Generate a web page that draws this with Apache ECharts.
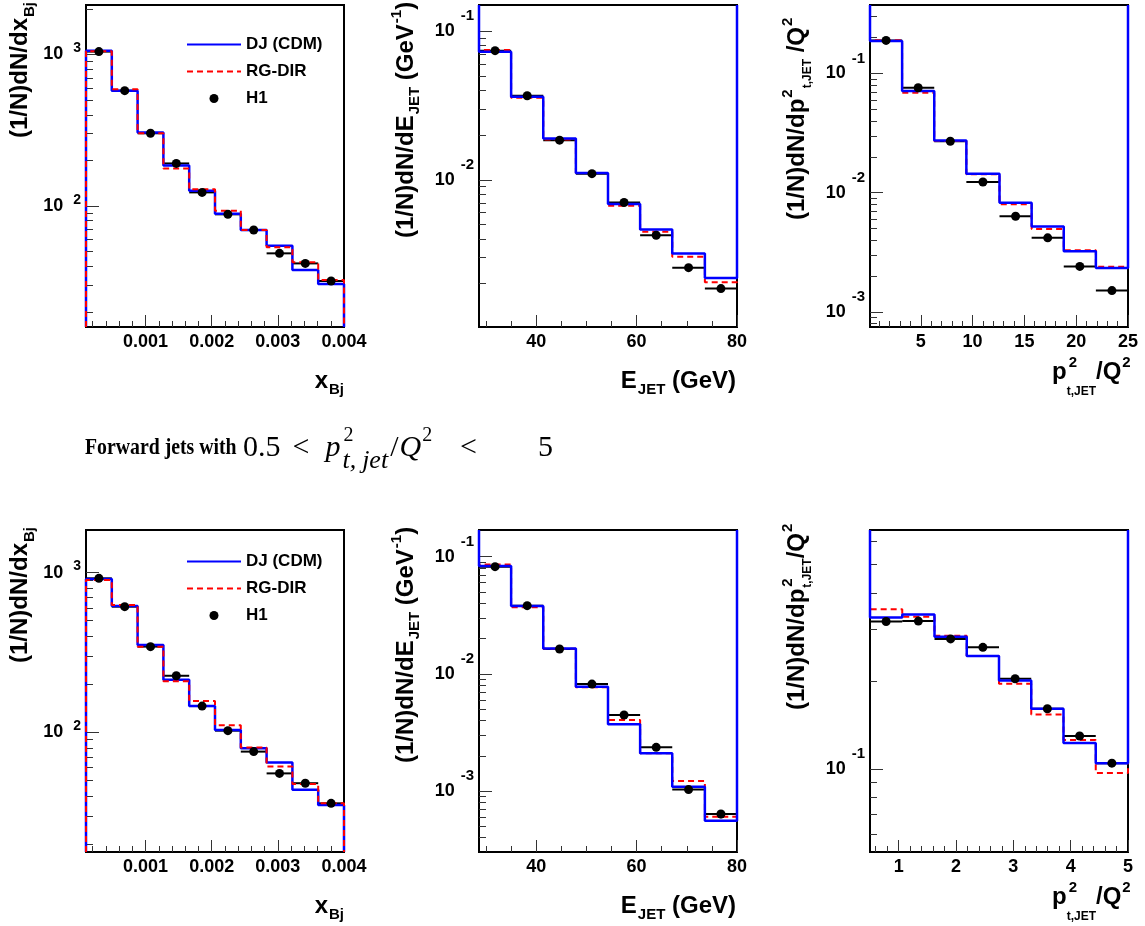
<!DOCTYPE html>
<html lang="en">
<head>
  <meta charset="UTF-8">
  <title>Forward jets: DJ (CDM), RG-DIR and H1</title>
  <script src="https://cdn.jsdelivr.net/npm/echarts/dist/echarts.min.js"></script>
  <style>
    body { margin: 0; background: #fff; }
    #chart { width: 1145px; height: 926px; }
  </style>
</head>
<body>
  <div id="chart"></div>
  <script>
    // ---- bin edges ----
    const xbjEdges   = [0.0001, 0.00049, 0.00088, 0.00127, 0.00166, 0.00205, 0.00244, 0.00283, 0.00322, 0.00361, 0.004];
    const ejetEdges  = [28.6, 35.0, 41.4, 47.9, 54.3, 60.7, 67.1, 73.6, 80];
    const ptAllEdges = [0.1, 3.2, 6.3, 9.4, 12.6, 15.7, 18.8, 21.9, 25];
    const ptCutEdges = [0.5, 1.0625, 1.625, 2.1875, 2.75, 3.3125, 3.875, 4.4375, 5];

    // ---- tick labels ----
    const xbjTicks   = [0.001, 0.002, 0.003, 0.004];
    const ejetTicks  = [40, 60, 80];
    const ptAllTicks = [5, 10, 15, 20, 25];
    const ptCutTicks = [1, 2, 3, 4, 5];

    // ---- top row: all forward jets ----
    const djXbjAll  = [1060, 577, 306, 185, 126, 89, 69.4, 54.7, 37.8, 30.6];
    const rgXbjAll  = [1050, 589, 302, 177, 129, 93.2, 69.4, 53.4, 42.5, 32.5];
    const h1XbjAll  = [1045, 577, 302, 191, 123, 88.1, 69.4, 48.7, 41.8, 32.0];
    const errXbjAll = [20, 10, 5, 4, 3, 2, 1.5, 1.4, 1.2, 1.1];

    const djEjetAll  = [0.0729, 0.0363, 0.0190, 0.0111, 0.00686, 0.00463, 0.00319, 0.00218];
    const rgEjetAll  = [0.0748, 0.0357, 0.0187, 0.0111, 0.00668, 0.00447, 0.00303, 0.00204];
    const h1EjetAll  = [0.0741, 0.0368, 0.0185, 0.0110, 0.00703, 0.00423, 0.00256, 0.00185];
    const errEjetAll = [0.0012, 0.0006, 0.0003, 0.0002, 0.00012, 0.00008, 0.00006, 0.00005];

    const djPtAll  = [0.187, 0.0711, 0.0274, 0.0144, 0.00822, 0.00520, 0.00323, 0.00234];
    const rgPtAll  = [0.190, 0.0689, 0.0271, 0.0143, 0.00800, 0.00497, 0.00329, 0.00239];
    const h1PtAll  = [0.189, 0.0758, 0.0270, 0.0123, 0.00635, 0.00418, 0.00241, 0.00151];
    const errPtAll = [0.003, 0.0012, 0.0005, 0.0003, 0.00015, 0.0001, 0.00007, 0.00006];

    // ---- bottom row: 0.5 < pt^2/Q^2 < 5 ----
    const djXbjCut  = [912, 618, 352, 213, 146, 103.5, 79.5, 64.6, 43.6, 35.1];
    const rgXbjCut  = [899, 627, 344, 209, 157, 110.7, 80.2, 61.0, 47.4, 35.9];
    const h1XbjCut  = [921, 612, 344, 226, 146, 102.4, 75.7, 55.3, 48.0, 35.9];
    const errXbjCut = [18, 11, 6, 4, 3, 2, 1.6, 1.4, 1.3, 1.2];

    const djEjetCut  = [0.0833, 0.0379, 0.0165, 0.00778, 0.00371, 0.00210, 0.00109, 0.000558];
    const rgEjetCut  = [0.0860, 0.0370, 0.0164, 0.00770, 0.00404, 0.00210, 0.00122, 0.000604];
    const h1EjetCut  = [0.0822, 0.0382, 0.0163, 0.00818, 0.00446, 0.00236, 0.00103, 0.000637];
    const errEjetCut = [0.0015, 0.0007, 0.0003, 0.00018, 0.00011, 0.00007, 0.00004, 0.00005];

    const djPtCut  = [0.330, 0.338, 0.284, 0.244, 0.201, 0.161, 0.123, 0.105];
    const rgPtCut  = [0.352, 0.332, 0.286, 0.244, 0.196, 0.154, 0.126, 0.0971];
    const h1PtCut  = [0.320, 0.321, 0.279, 0.261, 0.204, 0.161, 0.130, 0.105];
    const errPtCut = [0.005, 0.005, 0.004, 0.004, 0.003, 0.003, 0.003, 0.003];

    const FONT = '"Liberation Sans", Arial, sans-serif';
    const SERIF = '"Liberation Serif", "Times New Roman", serif';
    const W = 258, H = 322;

    const panels = [
      { left: 86,  top: 5,   edges: xbjEdges,   xTicks: xbjTicks,   xMinor: 0.0002, xDigits: 3, yMin: 15.9,    yMax: 2122,   yTicks: [100, 1000],
        dj: djXbjAll, rg: rgXbjAll, h1: h1XbjAll, err: errXbjAll, wallTop: false },
      { left: 479, top: 5,   edges: ejetEdges,  xTicks: ejetTicks,  xMinor: 5,      xDigits: 0, yMin: 0.00102, yMax: 0.1504, yTicks: [0.01, 0.1],
        dj: djEjetAll, rg: rgEjetAll, h1: h1EjetAll, err: errEjetAll, wallTop: true },
      { left: 870, top: 5,   edges: ptAllEdges, xTicks: ptAllTicks, xMinor: 1,      xDigits: 0, yMin: 0.000748, yMax: 0.3744, yTicks: [0.001, 0.01, 0.1],
        dj: djPtAll, rg: rgPtAll, h1: h1PtAll, err: errPtAll, wallTop: true },
      { left: 86,  top: 530, edges: xbjEdges,   xTicks: xbjTicks,   xMinor: 0.0002, xDigits: 3, yMin: 17.8,    yMax: 1849,   yTicks: [100, 1000],
        dj: djXbjCut, rg: rgXbjCut, h1: h1XbjCut, err: errXbjCut, wallTop: false },
      { left: 479, top: 530, edges: ejetEdges,  xTicks: ejetTicks,  xMinor: 5,      xDigits: 0, yMin: 0.000302, yMax: 0.169,  yTicks: [0.001, 0.01, 0.1],
        dj: djEjetCut, rg: rgEjetCut, h1: h1EjetCut, err: errEjetCut, wallTop: true },
      { left: 870, top: 530, edges: ptCutEdges, xTicks: ptCutTicks, xMinor: 0.2,    xDigits: 0, yMin: 0.0522,  yMax: 0.657,  yTicks: [0.1],
        dj: djPtCut, rg: rgPtCut, h1: h1PtCut, err: errPtCut, wallTop: true }
    ];

    function linMinor(min, max, step, majors) {
      const out = [];
      for (let k = Math.ceil(min / step - 1e-9); k * step <= max * (1 + 1e-9); k++) {
        const v = +(k * step).toPrecision(10);
        if (!majors.some(m => Math.abs(m - v) < step * 1e-6)) out.push(v);
      }
      return out;
    }
    function logMinor(min, max) {
      const out = [];
      for (let d = Math.floor(Math.log10(min)); d <= Math.ceil(Math.log10(max)); d++)
        for (let k = 2; k <= 9; k++) {
          const v = +(k * Math.pow(10, d)).toPrecision(6);
          if (v >= min && v <= max) out.push(v);
        }
      return out;
    }
    function stepPoints(edges, vals, yEdge) {
      const pts = [[edges[0], yEdge]];
      vals.forEach((v, i) => { pts.push([edges[i], v], [edges[i + 1], v]); });
      pts.push([edges[edges.length - 1], yEdge]);
      return pts;
    }
    function powLabel(v) {
      const e = Math.round(Math.log10(v));
      return e < 0 ? '{b|10}{n|' + e + '}' : '{b|10}{p|' + e + '}';
    }

    const tickLine = { color: '#333', width: 1 };
    const grid = [], xAxis = [], yAxis = [], series = [];

    panels.forEach((p, i) => {
      const xMin = p.edges[0], xMax = p.edges[p.edges.length - 1];
      grid.push({ left: p.left, top: p.top, width: W, height: H, show: true,
                  borderColor: '#000', borderWidth: 2, backgroundColor: 'rgba(0,0,0,0)' });

      xAxis.push({
        type: 'value', gridIndex: i, position: 'bottom', min: xMin, max: xMax,
        axisLine: { show: false }, splitLine: { show: false },
        axisTick: { show: true, inside: true, length: 12, customValues: p.xTicks, lineStyle: tickLine },
        axisLabel: { customValues: p.xTicks, margin: 6, formatter: v => v.toFixed(p.xDigits),
                     fontSize: 18, fontWeight: 'bold', fontFamily: FONT, color: '#000' }
      }, {
        type: 'value', gridIndex: i, position: 'bottom', min: xMin, max: xMax,
        axisLine: { show: false }, splitLine: { show: false }, axisLabel: { show: false },
        axisTick: { show: true, inside: true, length: 6, customValues: linMinor(xMin, xMax, p.xMinor, p.xTicks), lineStyle: tickLine }
      });

      yAxis.push({
        type: 'log', logBase: 10, gridIndex: i, position: 'left', min: p.yMin, max: p.yMax,
        axisLine: { show: false }, splitLine: { show: false },
        axisTick: { show: true, inside: true, length: 13, customValues: p.yTicks, lineStyle: tickLine },
        axisLabel: {
          customValues: p.yTicks, margin: 5, formatter: powLabel, color: '#000',
          rich: {
            b: { fontSize: 18, fontWeight: 'bold', fontFamily: FONT, color: '#000', verticalAlign: 'middle' },
            p: { fontSize: 14, fontWeight: 'bold', fontFamily: FONT, color: '#000', verticalAlign: 'middle', padding: [0, 0, 12, 10] },
            n: { fontSize: 15, fontWeight: 'bold', fontFamily: FONT, color: '#000', verticalAlign: 'middle', padding: [0, 0, 30, 6] }
          }
        }
      }, {
        type: 'log', logBase: 10, gridIndex: i, position: 'left', min: p.yMin, max: p.yMax,
        axisLine: { show: false }, splitLine: { show: false }, axisLabel: { show: false },
        axisTick: { show: true, inside: true, length: 7, customValues: logMinor(p.yMin, p.yMax), lineStyle: tickLine }
      });

      const yEdge = p.wallTop ? p.yMax : p.yMin;
      const redOnTop = !p.wallTop;
      const ax = { xAxisIndex: 2 * i, yAxisIndex: 2 * i };

      series.push({
        name: 'H1 err', type: 'custom', ...ax, silent: true, z: 2,
        data: p.h1.map((v, k) => [p.edges[k], p.edges[k + 1], v, v - p.err[k], v + p.err[k]]),
        encode: { x: [0, 1], y: [2, 3, 4] },
        renderItem(params, api) {
          const a = api.coord([api.value(0), api.value(2)]);
          const b = api.coord([api.value(1), api.value(2)]);
          const xc = (api.value(0) + api.value(1)) / 2;
          const lo = api.coord([xc, api.value(3)]);
          const hi = api.coord([xc, api.value(4)]);
          const st = { stroke: '#000', lineWidth: 2 };
          return { type: 'group', children: [
            { type: 'line', shape: { x1: a[0], y1: a[1], x2: b[0], y2: b[1] }, style: st },
            { type: 'line', shape: { x1: lo[0], y1: lo[1], x2: hi[0], y2: hi[1] }, style: st }
          ] };
        }
      });
      series.push({
        name: 'DJ (CDM)', type: 'line', ...ax, data: stepPoints(p.edges, p.dj, yEdge),
        symbol: 'none', clip: false, silent: true, z: redOnTop ? 3 : 4, color: '#0000ff',
        lineStyle: { color: '#0000ff', width: 2.5 }
      });
      series.push({
        name: 'RG-DIR', type: 'line', ...ax, data: stepPoints(p.edges, p.rg, yEdge),
        symbol: 'none', clip: false, silent: true, z: redOnTop ? 4 : 3, color: '#ff0000',
        lineStyle: { color: '#ff0000', width: 2, type: [6, 4] }
      });
      series.push({
        name: 'H1', type: 'scatter', ...ax, silent: true, z: 5,
        data: p.h1.map((v, k) => [(p.edges[k] + p.edges[k + 1]) / 2, v]),
        symbol: 'circle', symbolSize: 9, itemStyle: { color: '#000', opacity: 1 }
      });
    });

    const noDot = { opacity: 0, color: 'rgba(0,0,0,0)', borderWidth: 0 };
    const legend = [36, 553].map(top => ({
      orient: 'vertical', left: 186, top: top, padding: 0, itemWidth: 54, itemHeight: 9, itemGap: 10,
      selectedMode: false,
      data: [{ name: 'DJ (CDM)', itemStyle: noDot }, { name: 'RG-DIR', itemStyle: noDot },
             { name: 'H1', itemStyle: { color: '#000', opacity: 1 } }],
      textStyle: { fontSize: 17, fontWeight: 'bold', fontFamily: FONT, color: '#000' }
    }));

    // ---- titles ----
    const mctx = document.createElement('canvas').getContext('2d');
    function textW(s, font) { mctx.font = font; return mctx.measureText(s).width; }

    const TR = {
      m:  { fontSize: 24, fontWeight: 'bold', fontFamily: FONT, fill: '#000', verticalAlign: 'middle' },
      s:  { fontSize: 15, fontWeight: 'bold', fontFamily: FONT, fill: '#000', verticalAlign: 'middle', padding: [18, 0, 0, 1] },
      u:  { fontSize: 15, fontWeight: 'bold', fontFamily: FONT, fill: '#000', verticalAlign: 'middle', padding: [0, 0, 18, 1] },
      sy: { fontSize: 12, fontWeight: 'bold', fontFamily: FONT, fill: '#000', verticalAlign: 'middle', padding: [22, 0, 0, 1] },
      ss: { fontSize: 12, fontWeight: 'bold', fontFamily: FONT, fill: '#000', verticalAlign: 'middle', padding: [40, 0, 0, 0] },
      t:  { fontSize: 23, fontWeight: 'bold', fontFamily: SERIF, fill: '#000', verticalAlign: 'middle' },
      r:  { fontSize: 30, fontFamily: SERIF, fill: '#000', verticalAlign: 'middle' },
      rel:{ fontSize: 30, fontFamily: SERIF, fill: '#000', verticalAlign: 'middle', padding: [0, 16, 0, 12] },
      sl: { fontSize: 30, fontFamily: SERIF, fill: '#000', verticalAlign: 'middle', padding: [0, 1, 0, 2] },
      i:  { fontSize: 30, fontStyle: 'italic', fontFamily: SERIF, fill: '#000', verticalAlign: 'middle' },
      ts: { fontSize: 26, fontStyle: 'italic', fontFamily: SERIF, fill: '#000', verticalAlign: 'middle', padding: [26, 0, 0, 2] },
      tj: { fontSize: 26, fontStyle: 'italic', fontFamily: SERIF, fill: '#000', verticalAlign: 'middle', padding: [26, 0, 0, 6] },
      tu: { fontSize: 20, fontFamily: SERIF, fill: '#000', verticalAlign: 'middle', padding: [0, 0, 24, 1] }
    };
    function txt(x, y, text, align) {
      return { type: 'text', x: x, y: y, silent: true,
               style: { text: text, rich: TR, fill: '#000', align: align || 'left', verticalAlign: 'middle',
                        textAlign: align || 'left', textVerticalAlign: 'middle' } };
    }
    const mFont = 'bold 24px ' + FONT;

    const graphic = [];
    [0, 525].forEach(dy => {
      // y titles (rotated, reading upwards)
      graphic.push({ type: 'group', x: 20.5, y: 138 + dy, rotation: Math.PI / 2,
                     children: [txt(0, 0, '{m|(1/N)dN/dx}{s|Bj}')] });
      graphic.push({ type: 'group', x: 406, y: 238 + dy, rotation: Math.PI / 2,
                     children: [txt(0, 0, '{m|(1/N)dN/dE}{s|JET}{m| (GeV}{u|-1}{m|)}')] });
      // x titles
      graphic.push(txt(344, 381 + dy, '{m|x}{s|Bj}', 'right'));
      graphic.push(txt(736, 381 + dy, '{m|E}{s|JET}{m| (GeV)}', 'right'));
      graphic.push(txt(1052, 372 + dy, '{m|p}{ss|t,JET}{m|/Q}{u|2}'));
      graphic.push(txt(1052 + textW('p', mFont) + 1, 372 + dy, '{u|2}'));
    });
    // p_t^2/Q^2 y titles: sequential in the top panel, stacked in the bottom one
    const pStack = textW('(1/N)dN/dp', mFont) + 1;
    graphic.push({ type: 'group', x: 797, y: 220, rotation: Math.PI / 2,
                   children: [txt(0, 0, '{m|(1/N)dN/dp}{u|2}{sy|t,JET}{m| /Q}{u|2}')] });
    graphic.push({ type: 'group', x: 797, y: 710, rotation: Math.PI / 2,
                   children: [txt(0, 0, '{m|(1/N)dN/dp}{sy|t,JET}{m|/Q}{u|2}'), txt(pStack, 0, '{u|2}')] });

    // row title
    graphic.push({ type: 'text', x: 85, y: 448, scaleX: 0.86, silent: true,
                   style: { text: '{t|Forward jets with}', rich: TR, align: 'left', verticalAlign: 'middle',
                            textAlign: 'left', textVerticalAlign: 'middle' } });
    const pEnd = 243 + textW('0.5', '30px ' + SERIF) + 28 + textW('<', '30px ' + SERIF) + textW('p', 'italic 30px ' + SERIF) + 2;
    graphic.push(txt(243, 448, '{r|0.5}{rel|<}{i|p}{ts|t,}{tj|jet}{sl|/}{i|Q}{tu|2}'));
    graphic.push(txt(pEnd, 448, '{tu|2}'));
    graphic.push(txt(460, 448, '{r|<}'));
    graphic.push(txt(553, 448, '{r|5}', 'right'));

    const chart = echarts.init(document.getElementById('chart'));
    chart.setOption({
      animation: false,
      backgroundColor: '#fff',
      grid: grid, xAxis: xAxis, yAxis: yAxis, series: series,
      legend: legend, graphic: graphic
    });
  </script>
</body>
</html>
